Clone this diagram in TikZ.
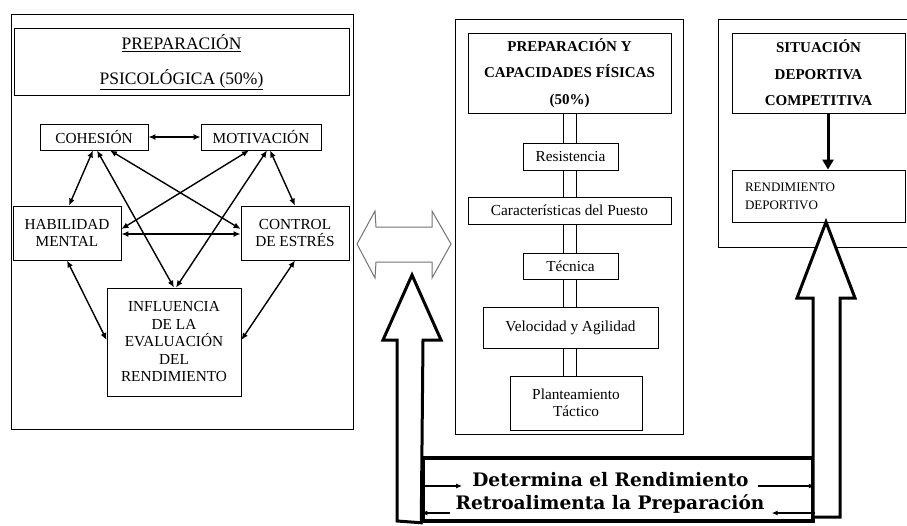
\documentclass[tikz,border=0pt]{standalone}
\usepackage{fontspec}
\setmainfont{Liberation Serif}
\newfontfamily\slab{DejaVu Serif}
\usetikzlibrary{arrows.meta}

\begin{document}
\begin{tikzpicture}
        [
            x = 1pt, y = -1pt,
            box/.style = {draw, fill = white, line width = .8pt, inner sep = 0pt, align = center,
                font = \fontsize{15.3}{17.5}\selectfont},
            head/.style = {box, font = \fontsize{15}{26.5}\selectfont\bfseries},
            link/.style = {{Latex[length = 7pt, width = 6pt]}-{Latex[length = 7pt, width = 6pt]}, line width = 1.4pt},
            pointer/.style = {-{Latex[length = 6pt, width = 5pt]}, line width = 1.2pt},
            hollow/.style = {draw, fill = white, line width = 3pt, line join = miter},
            frame/.style = {line width = .8pt},
            motto/.style = {anchor = base, inner sep = 0pt, font = \bf\slab\fontsize{18.6}{20}\selectfont}
        ]

        \useasboundingbox (0,0) rectangle (907,525);

        \draw[frame] (11,14) rectangle (353,429);
        \node[box, minimum width = 335pt, minimum height = 67pt, font = \fontsize{17.5}{35}\selectfont] (psy) at (181.5,62)
            {\underline{PREPARACIÓN}\\\underline{PSICOLÓGICA (50\%)}};
        \node[box, minimum width = 108pt, minimum height = 26pt] (cohesion) at (94,137) {COHESIÓN};
        \node[box, minimum width = 120pt, minimum height = 26pt] (motivacion) at (261,137) {MOTIVACIÓN};
        \node[box, minimum width = 108pt, minimum height = 54pt] (habilidad) at (67,233) {HABILIDAD\\MENTAL};
        \node[box, minimum width = 108pt, minimum height = 54pt] (control) at (295,233) {CONTROL\\DE ESTRÉS};
        \node[box, minimum width = 134pt, minimum height = 108pt] (influencia) at (174,342)
            {INFLUENCIA\\DE LA\\EVALUACIÓN\\DEL\\RENDIMIENTO};

        \draw[link] (cohesion) -- (motivacion);
        \draw[link] ([xshift = -1pt]cohesion.south) -- ([xshift = 2pt]habilidad.north);
        \draw[link] ([xshift = 3pt]cohesion.south) -- (influencia.north);
        \draw[link] ([xshift = 16pt]cohesion.south) -- ([yshift = 4pt]control.west);
        \draw[link] ([xshift = -12pt]motivacion.south) -- ([yshift = 4pt]habilidad.east);
        \draw[link] ([xshift = 6pt]motivacion.south) -- ([xshift = 2pt]influencia.north);
        \draw[link] ([xshift = 9pt]motivacion.south) -- (control.north);
        \draw[link] ([yshift = -1pt]habilidad.east) -- ([yshift = -1pt]control.west);
        \draw[link] (habilidad.south) -- ([yshift = 2pt]influencia.west);
        \draw[link] (control.south) -- ([yshift = 2pt]influencia.east);

        \draw[frame] (455,19) rectangle (683,434);
        \node[head, minimum width = 203pt, minimum height = 80pt] (fisica) at (569.5,73)
            {PREPARACIÓN Y\\CAPACIDADES FÍSICAS\\(50\%)};
        \node[box, minimum width = 95pt, minimum height = 27pt] (resistencia) at (570.5,156.5) {Resistencia};
        \node[box, minimum width = 203pt, minimum height = 27pt] (puesto) at (569.5,210.5) {Características del Puesto};
        \node[box, minimum width = 95pt, minimum height = 26pt] (tecnica) at (570.5,266) {Técnica};
        \node[box, minimum width = 175pt, minimum height = 41pt] (velocidad) at (570.5,327.5) {Velocidad y Agilidad};
        \node[box, minimum width = 132pt, minimum height = 54pt] (tactica) at (576,403) {Planteamiento\\Táctico};

        \coordinate (railA) at ([xshift = -6.5pt]fisica.south);
        \coordinate (railB) at ([xshift = 6.5pt]fisica.south);
        \foreach \from/\to in {fisica/resistencia, resistencia/puesto, puesto/tecnica, tecnica/velocidad, velocidad/tactica}
            \foreach \rail in {railA, railB}
                \draw[frame] (\rail |- \from.south) -- (\rail |- \to.north);

        \draw[frame] (907,19) -- (718,19) -- (718,247) -- (907,247);
        \node[head, minimum width = 173pt, minimum height = 80pt] (situacion) at (818.5,73)
            {SITUACIÓN\\DEPORTIVA\\COMPETITIVA};
        \node[box, minimum height = 52pt, text width = 147pt, align = left, inner xsep = 13pt,
            font = \fontsize{13}{18}\selectfont] (rendimiento) at (818.5,196) {RENDIMIENTO\\DEPORTIVO};
        \draw[-{Triangle[length = 10pt, width = 11pt]}, line width = 3pt]
            ([xshift = 9.5pt]situacion.south) -- ([xshift = 9.5pt]rendimiento.north);

        \draw[black!55, line width = 1pt, fill = white] (357,244) -- (375,211) -- (376,227) -- (432,227) -- (432,211)
            -- (451,244) -- (432,278) -- (432,262) -- (376,262) -- (375,278) -- cycle;

        \node[draw, line width = 3.5pt, minimum width = 390pt, minimum height = 63pt] (feedback) at (618,489.5) {};
        \draw[hollow] (feedback.south west) -- (397,521) -- (397,340) -- (383,340) -- (412,275) -- (441,340)
            -- (423,340) -- cycle;
        \draw[hollow] (813,517) -- (813,298) -- (797,298) -- (826,222) -- (855,298) -- (840,298) -- (840,517) -- cycle;

        \node[motto] (determina) at (610.5,486) {Determina el Rendimiento};
        \node[motto] (retro) at (610,509) {Retroalimenta la Preparación};
        \draw[pointer] (feedback.west |- determina.base) -- ([xshift = -10pt]determina.base west);
        \draw[pointer] ([xshift = 9pt]determina.base east) -- (feedback.east |- determina.base);
        \draw[pointer] ([xshift = -5pt, yshift = -4pt]retro.base west) -- ([yshift = -4pt]feedback.west |- retro.base);
        \draw[pointer] ([yshift = -4pt]feedback.east |- retro.base) -- ([xshift = 7pt, yshift = -4pt]retro.base east);
\end{tikzpicture}
\end{document}
